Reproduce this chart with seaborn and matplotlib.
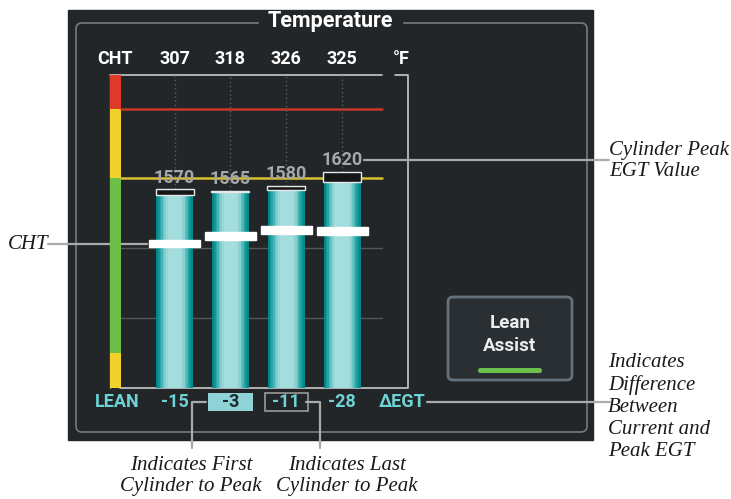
import matplotlib
matplotlib.use("Agg")
import matplotlib.pyplot as plt
import matplotlib.transforms as mtransforms
from matplotlib.patches import Rectangle, FancyBboxPatch
import numpy as np
import pandas as pd
import seaborn as sns

cylinders = ["1", "2", "3", "4"]
cht_values = [307, 318, 326, 325]
egt_peak = [1570, 1565, 1580, 1620]
delta_egt = [-15, -3, -11, -28]
egt_now = [p + d for p, d in zip(egt_peak, delta_egt)]

# CHT gauge bands (low, high, colour) and limit lines
cht_bands = [(100, 150, "#f2d22a"), (150, 400, "#6cbf48"),
             (400, 500, "#f2d22a"), (500, 548, "#e03a2a")]
cht_lines = [(400, "#d8c030"), (500, "#c8382a")]
cht_grid = [200, 300]

panel = "#232629"
cyan_txt = "#6fd3d6"

sns.set_theme(style="white")
plt.rcParams["font.family"] = ["Roboto", "DejaVu Sans"]

W, H = 731, 499
fig = plt.figure(figsize=(W / 100, H / 100), dpi=100)
fig.patch.set_facecolor("white")

# background axes in pixel units
bg = fig.add_axes([0, 0, 1, 1])
bg.set_xlim(0, W)
bg.set_ylim(H, 0)
bg.axis("off")


def px_rect(x0, y0, x1, y1):
    return [x0 / W, 1 - y1 / H, (x1 - x0) / W, (y1 - y0) / H]


# dark panel + inner rounded border
bg.add_patch(Rectangle((68, 10), 525, 430, color=panel, zorder=0))
bg.add_patch(FancyBboxPatch((76, 23), 511, 409, boxstyle="round,pad=0,rounding_size=6",
                            fill=False, ec="#777b7e", lw=1.2, zorder=1))
bg.add_patch(Rectangle((259, 15), 143, 14, color=panel, zorder=1))
bg.text(330, 21, "Temperature", color="white", fontsize=15.5, fontweight="bold",
        ha="center", va="center", zorder=2)

# graph axes: CHT (back), EGT (bars), CHT markers (front)
rect = px_rect(110, 75, 408, 388)
ax_c = fig.add_axes(rect)
ax = fig.add_axes(rect)
ax_m = fig.add_axes(rect)
for a in (ax_c, ax, ax_m):
    a.patch.set_visible(False)
    a.axis("off")

xlim = (-1.156, 4.18)
for a in (ax_c, ax_m):
    a.set_xlim(*xlim)
    a.set_ylim(100, 548)

strip = 10.7 / 298
line_end = (382 - 110) / 298
for lo, hi, col in cht_bands:
    ax_c.axhspan(lo, hi, xmin=0, xmax=strip, color=col, lw=0)
for g in cht_grid:
    ax_c.axhline(g, xmin=strip, xmax=line_end, color="#55595c", lw=1)

# bars with a banded teal gradient
df = pd.DataFrame({"cyl": cylinders, "egt": egt_now, "peak": egt_peak})
layers = [(0.66, "#068787"), (0.59, "#139696"), (0.53, "#2aa6a6"), (0.47, "#48b6b6"),
          (0.42, "#68c4c4"), (0.37, "#84cfcf"), (0.31, "#97d7d7"), (0.24, "#a4dddd")]
for wd, col in layers:
    sns.barplot(data=df, x="cyl", y="egt", color=col, width=wd, saturation=1,
                ax=ax, zorder=3, linewidth=0)
ax.set_xlim(*xlim)
ax.set_ylim(1015, 1890)
ax.axis("off")

xs = np.arange(len(cylinders))
# dotted guides from the top of the graph to the peak label
ax.vlines(xs, egt_peak, 1890, colors="#5b5f62", linestyles=(0, (1, 2)), lw=1, zorder=1)
# peak boxes
ax.bar(xs, np.array(egt_peak) - np.array(egt_now), bottom=egt_now, width=0.68,
       color="#141618", edgecolor="#e8e8e8", lw=1, zorder=4)
for x, p in zip(xs, egt_peak):
    ax.text(x, p + 8, str(p), color="#a5a7a9", fontsize=13, fontweight="bold",
            ha="center", va="bottom", zorder=6)

# red / yellow limit lines across the graph
for v, col in cht_lines:
    ax_c.axhline(v, xmin=strip, xmax=line_end, color=col, lw=1.8)

# CHT markers
ax_m.bar(xs, 11, bottom=np.array(cht_values) - 5.5, width=0.91, color="white", zorder=5)

# frame lines
fr = "#c9c9c9"
bg.plot([110, 382], [75, 75], color=fr, lw=1.2, zorder=3)
bg.plot([395, 408, 408, 120], [75, 75, 388, 388], color=fr, lw=1.2, zorder=3)
bg.plot([110, 110], [75, 388], color="#8a8a8a", lw=1, zorder=3)

# text rows tied to bar positions
fs = 13
tx = mtransforms.blended_transform_factory(ax.transData, bg.transData)
bg.text(115, 59, "CHT", color="white", fontsize=fs, fontweight="bold", ha="center", va="center")
bg.text(401, 59, "°F", color="white", fontsize=fs, fontweight="bold", ha="center", va="center")
for x, c in zip(xs, cht_values):
    bg.text(x, 59, str(c), transform=tx, color="white", fontsize=fs,
            fontweight="bold", ha="center", va="center")
for x, c in zip(xs, cylinders):
    bg.text(x, 373, c, transform=tx, color="#16383a", fontsize=10.5,
            fontweight="bold", ha="center", va="center", zorder=6)

bg.text(117, 402, "LEAN", color=cyan_txt, fontsize=fs, fontweight="bold", ha="center", va="center")
bg.text(402, 402, "ΔEGT", color=cyan_txt, fontsize=fs, fontweight="bold", ha="center", va="center")
first = 1   # first cylinder to peak
last = 2    # last cylinder to peak
for i, (x, d) in enumerate(zip(xs, delta_egt)):
    col = cyan_txt
    if i == first:
        bg.add_patch(Rectangle((x - 0.41, 393), 0.82, 18, transform=tx,
                               fc="#8fd3d6", ec="none", zorder=4))
        col = "#1b2a2c"
    elif i == last:
        bg.add_patch(Rectangle((x - 0.385, 393), 0.77, 18, transform=tx,
                               fc="none", ec="#9a9a9a", lw=1.2, zorder=4))
    bg.text(x, 402, str(d), transform=tx, color=col, fontsize=fs, fontweight="bold",
            ha="center", va="center", zorder=5)

# Lean Assist button
bg.add_patch(FancyBboxPatch((448, 297), 124, 83, boxstyle="round,pad=0,rounding_size=5",
                            fc="#2a2f33", ec="#62717b", lw=2, zorder=3))
bg.text(510, 323, "Lean", color="#ececec", fontsize=13.5, fontweight="bold", ha="center", va="center", zorder=4)
bg.text(510, 346, "Assist", color="#ececec", fontsize=13.5, fontweight="bold", ha="center", va="center", zorder=4)
bg.add_patch(FancyBboxPatch((478, 368), 64, 5, boxstyle="round,pad=0,rounding_size=2.5",
                            fc="#6cc04a", ec="none", zorder=4))

# callouts
lc = "#a9abac"
ann = dict(family=["Liberation Serif", "DejaVu Serif"], style="italic", fontsize=15,
           color="#1a1a1a")
bg.plot([48, 147], [244, 244], color=lc, lw=1.6, zorder=4)
bg.text(28, 244, "CHT", ha="center", va="center", **ann)
bg.plot([364, 609], [159.5, 159.5], color=lc, lw=1.6, zorder=4)
bg.text(609, 161, "Cylinder Peak\nEGT Value", ha="left", va="center", linespacing=1.1, **ann)
bg.plot([427, 610], [402, 402], color=lc, lw=1.6, zorder=4)
bg.text(608, 407, "Indicates\nDifference\nBetween\nCurrent and\nPeak EGT", ha="left", va="center",
        linespacing=1.2, **ann)
bg.plot([206, 192, 192], [402, 402, 448], color=lc, lw=1.6, zorder=4)
bg.text(191, 476, "Indicates First\nCylinder to Peak", ha="center", va="center", linespacing=1.15, **ann)
bg.plot([306, 320, 320], [402, 402, 448], color=lc, lw=1.6, zorder=4)
bg.text(347, 476, "Indicates Last\nCylinder to Peak", ha="center", va="center", linespacing=1.15, **ann)

fig.savefig("out.png", dpi=100, facecolor="white")
